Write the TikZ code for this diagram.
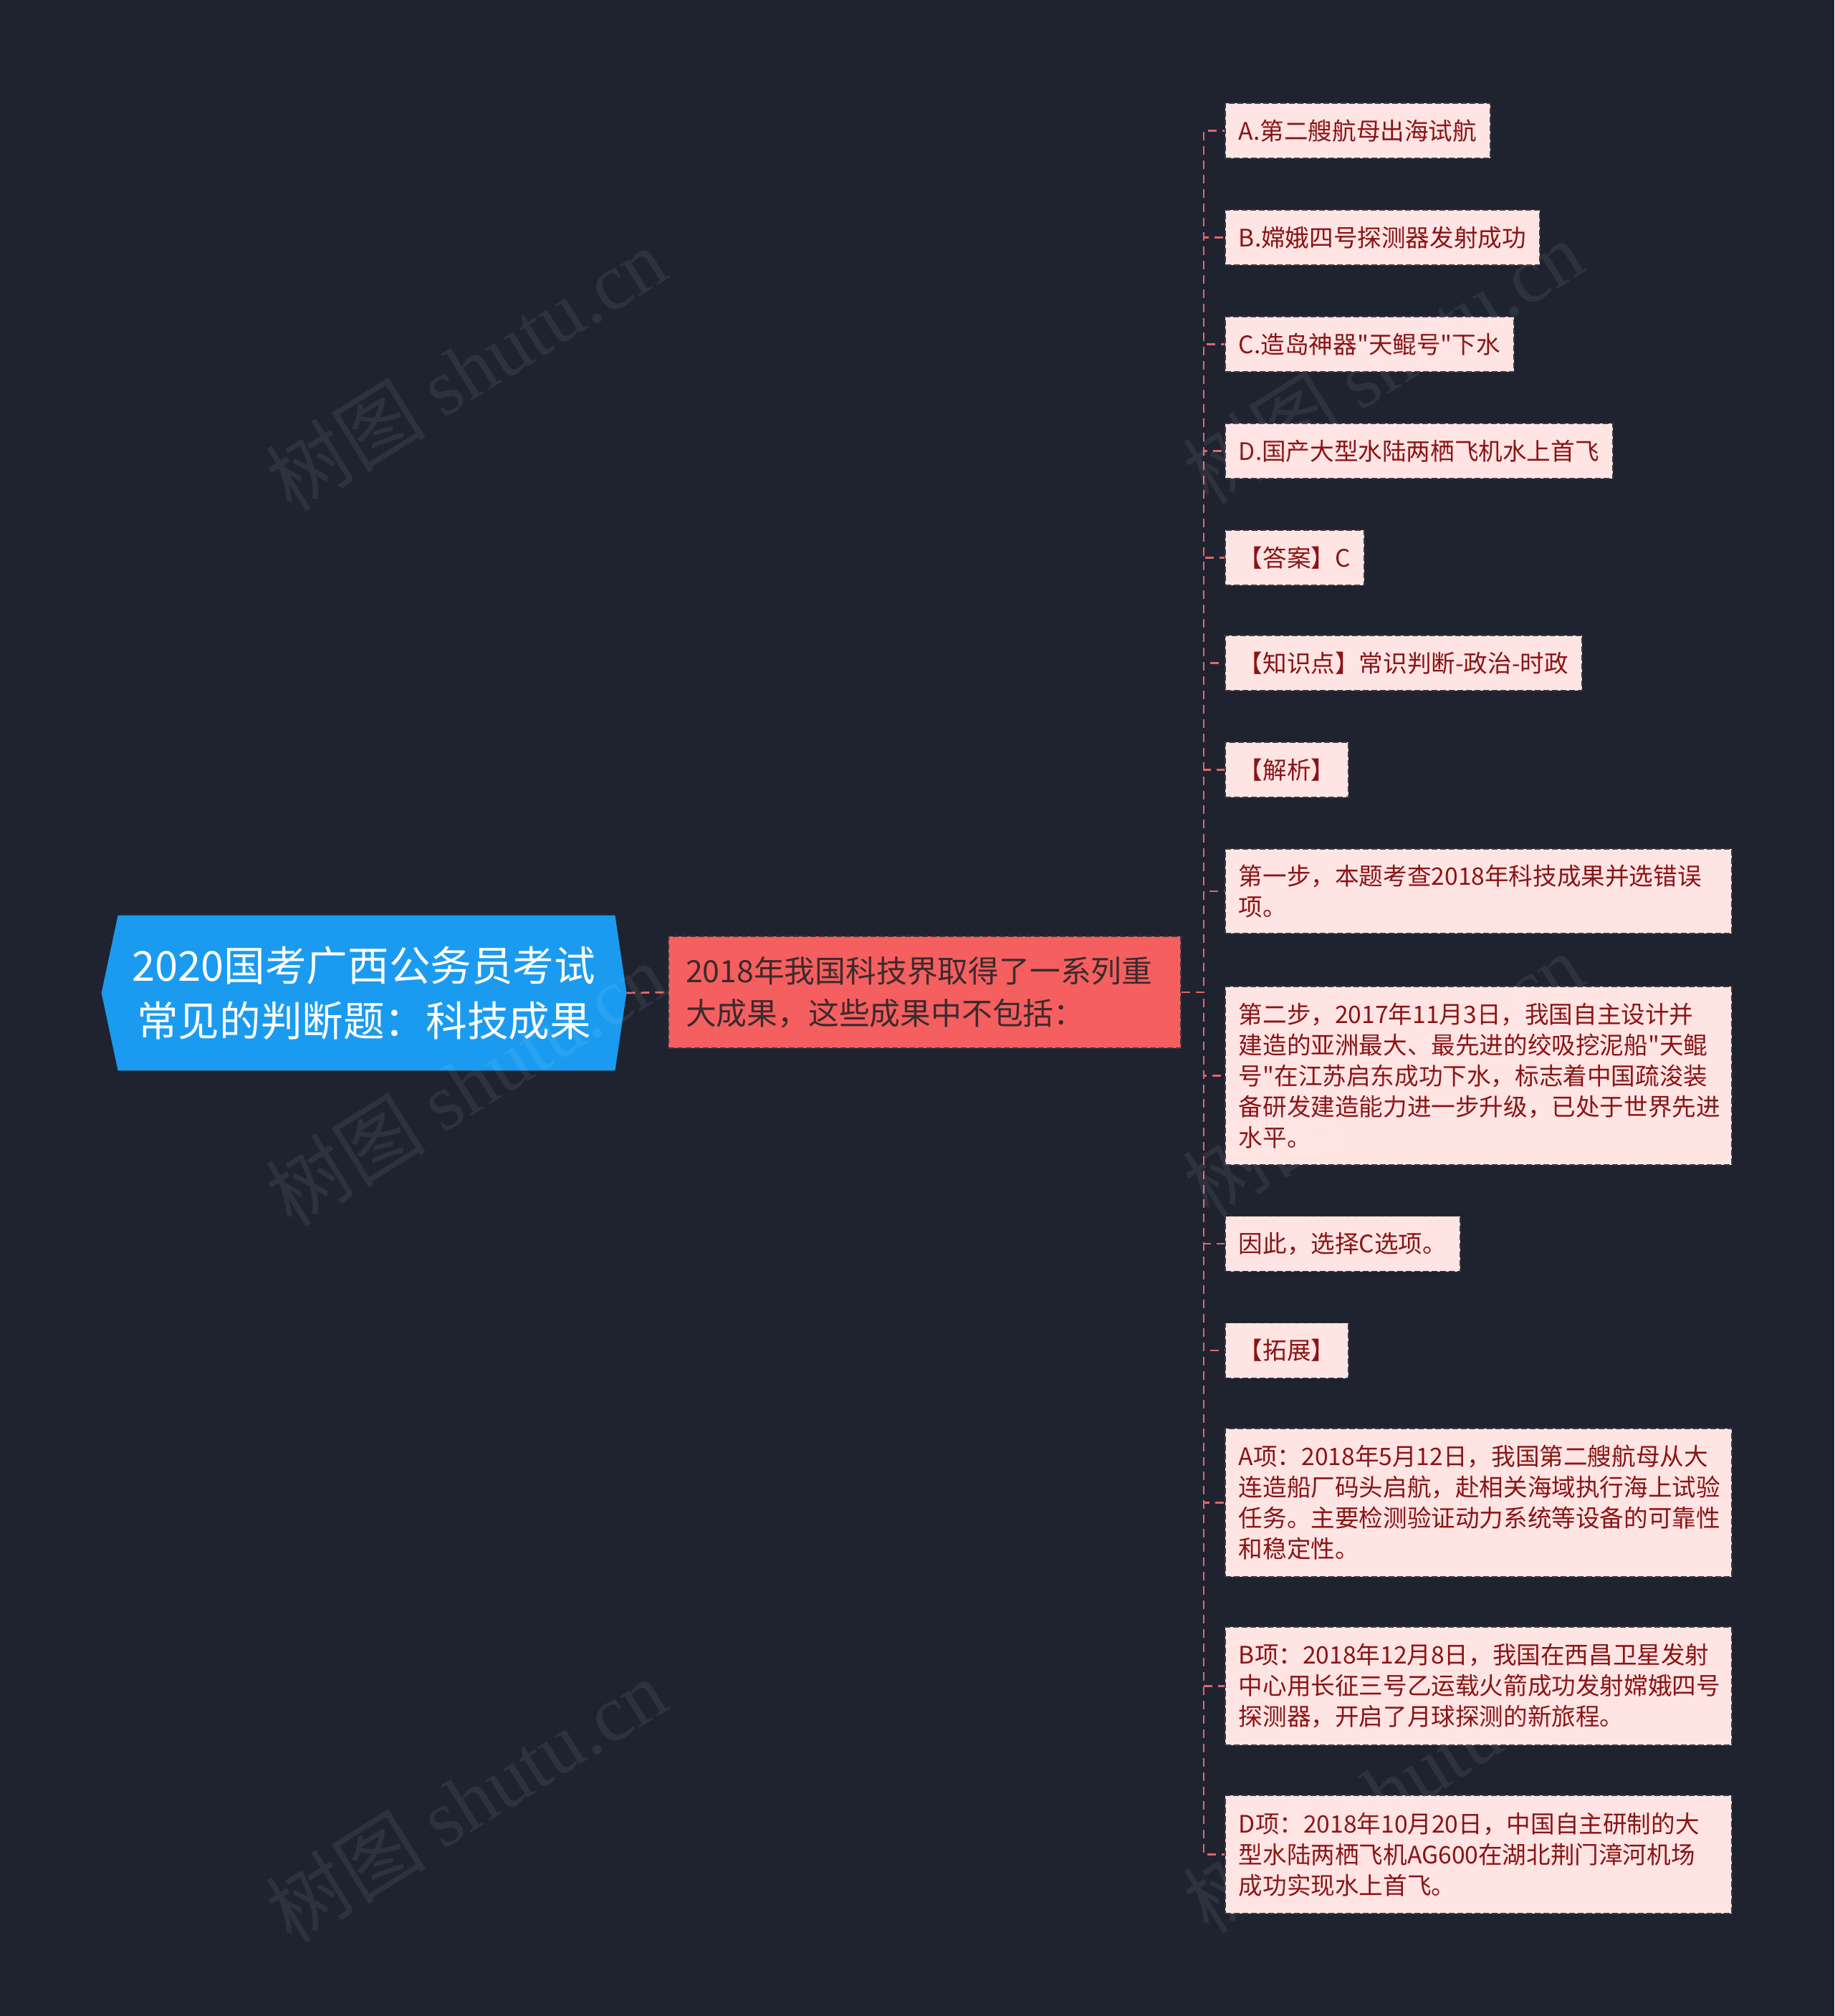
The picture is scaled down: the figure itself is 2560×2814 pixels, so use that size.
\documentclass[tikz,border=0pt]{standalone}
\usepackage{fontspec}
\newfontfamily\cjk{Noto Sans CJK SC}
\newfontfamily\wmserif{Liberation Serif}
\usetikzlibrary{calc,backgrounds}
\definecolor{bg}{HTML}{1F2330}
\definecolor{rootblue}{HTML}{1A9BF0}
\definecolor{midred}{HTML}{F55F5F}
\definecolor{midtext}{HTML}{3B2A2E}
\definecolor{leafpink}{HTML}{FFE4E4}
\definecolor{leaftext}{HTML}{8A1414}
\definecolor{boxborder}{HTML}{3A3A40}
\definecolor{connred}{HTML}{E26668}
\begin{document}
\begin{tikzpicture}[x=0.5pt,y=-0.5pt,
  conn/.style={draw=connred, line width=1.35pt, dash pattern=on 6pt off 4pt},
  leaf/.style={anchor=west, fill=leafpink, draw=boxborder, line width=0.9pt,
    dash pattern=on 4pt off 2pt, text=leaftext,
    font=\cjk\fontsize{16.8}{21.5}\selectfont, inner xsep=9.5pt, inner ysep=0pt, align=left},
  leafone/.style={leaf, minimum height=38.5pt},
  leafwide/.style={leaf, text width=334.5pt},
  wm/.style={rotate=32, text=white, opacity=0.07, font=\cjk\fontsize{56}{60}\selectfont}
]
\begin{scope}[on background layer]
\fill[bg] (0,0) rectangle (2560,2814);
\end{scope}
\useasboundingbox (0,0) rectangle (2560,2814);

% root
\node (root) at (508,1386) [minimum width=366pt, minimum height=108pt, inner sep=0pt,
  text=white, font=\cjk\fontsize{28.8}{38.5}\selectfont, align=center]
  {2020国考广西公务员考试\\常见的判断题：科技成果};
\begin{scope}[on background layer]
\fill[rootblue] (root.west) -- ($(root.north west)+(23,0)$) -- ($(root.north east)+(-16,0)$)
  -- (root.east) -- ($(root.south east)+(-16,0)$) -- ($(root.south west)+(23,0)$) -- cycle;
\end{scope}

% middle
\node (mid) at (1290.5,1385) [fill=midred, draw=boxborder, line width=0.9pt,
  dash pattern=on 4pt off 2pt, minimum height=78pt, inner xsep=12pt, inner ysep=0pt,
  text width=333.5pt, align=left, text=midtext,
  font=\cjk\fontsize{21.4}{29.5}\selectfont]
  {2018年我国科技界取得了一系列重\\大成果，这些成果中不包括：};

\coordinate (spine) at (1680,0);

% leaves
\node[leafone] (l1) at (1709,182.5) {A.第二艘航母出海试航};
\node[leafone] (l2) at (1709,331.5) {B.嫦娥四号探测器发射成功};
\node[leafone] (l3) at (1709,480.5) {C.造岛神器"天鲲号"下水};
\node[leafone] (l4) at (1709,629.5) {D.国产大型水陆两栖飞机水上首飞};
\node[leafone] (l5) at (1709,778.5) {【答案】C};
\node[leafone] (l6) at (1709,925.5) {【知识点】常识判断-政治-时政};
\node[leafone] (l7) at (1709,1074.5) {【解析】};
\node[leafwide, minimum height=59pt] (l8) at (1709,1244) {第一步，本题考查2018年科技成果并选错误\\项。};
\node[leafwide, minimum height=124.5pt] (l9) at (1709,1501.5) {第二步，2017年11月3日，我国自主设计并\\建造的亚洲最大、最先进的绞吸挖泥船"天鲲\\号"在江苏启东成功下水，标志着中国疏浚装\\备研发建造能力进一步升级，已处于世界先进\\水平。};
\node[leafone] (l10) at (1709,1736) {因此，选择C选项。};
\node[leafone] (l11) at (1709,1885) {【拓展】};
\node[leafwide, minimum height=103.5pt] (l12) at (1709,2097.5) {A项：2018年5月12日，我国第二艘航母从大\\连造船厂码头启航，赴相关海域执行海上试验\\任务。主要检测验证动力系统等设备的可靠性\\和稳定性。};
\node[leafwide, minimum height=82.5pt] (l13) at (1709,2353.5) {B项：2018年12月8日，我国在西昌卫星发射\\中心用长征三号乙运载火箭成功发射嫦娥四号\\探测器，开启了月球探测的新旅程。};
\node[leafwide, minimum height=82.5pt] (l14) at (1709,2588.5) {D项：2018年10月20日，中国自主研制的大\\型水陆两栖飞机AG600在湖北荆门漳河机场\\成功实现水上首飞。};

% connectors
\draw[conn] (root.east) -- (mid.west);
\foreach \i in {1,...,14}{
  \draw[conn] (mid.east) -- (mid.east -| spine) |- (l\i.west);
}

% watermarks
\foreach \p in {(650,515),(650,1513),(650,2513),(1930,505),(1930,1500),(1930,2500)}{
  \node[wm] at \p {树图 {\wmserif shutu.cn}};
}
\end{tikzpicture}
\end{document}
